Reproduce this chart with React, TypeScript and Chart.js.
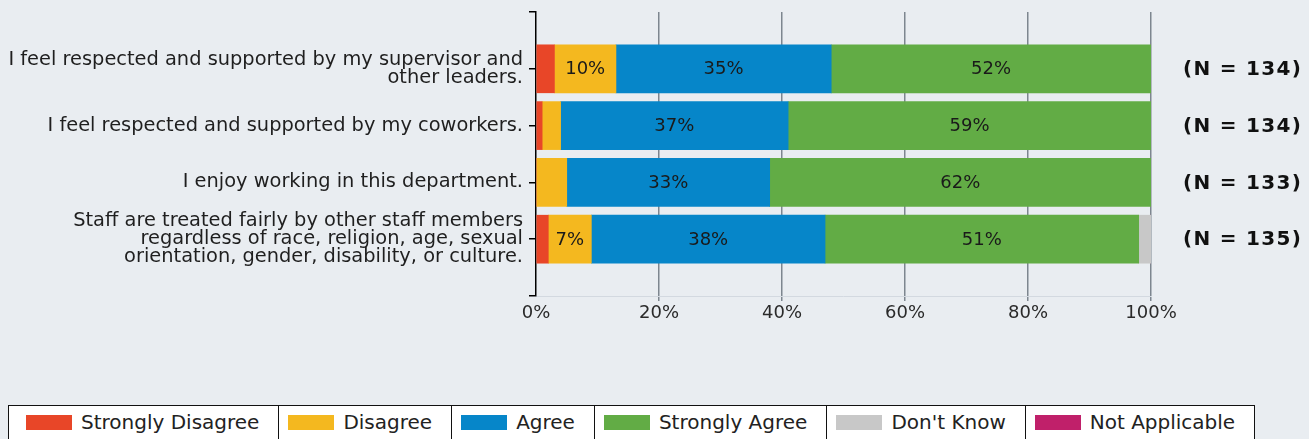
import React, { useEffect, useRef } from "react";
import { Chart, registerables } from "chart.js";

Chart.register(...registerables);

const categories: (string | string[])[] = [
  ["I feel respected and supported by my supervisor and", "other leaders."],
  "I feel respected and supported by my coworkers.",
  "I enjoy working in this department.",
  [
    "Staff are treated fairly by other staff members",
    "regardless of race, religion, age, sexual",
    "orientation, gender, disability, or culture.",
  ],
];
const nCounts = [134, 134, 133, 135];

const seriesNames = ["Strongly Disagree", "Disagree", "Agree", "Strongly Agree", "Don't Know", "Not Applicable"];
const seriesColors = ["#e84628", "#f4b81f", "#0686c9", "#62ac45", "#c8c8c8", "#c0206a"];

const stronglyDisagree = [3, 1, 0, 2];
const disagree = [10, 3, 5, 7];
const agree = [35, 37, 33, 38];
const stronglyAgree = [52, 59, 62, 51];
const dontKnow = [0, 0, 0, 2];
const notApplicable = [0, 0, 0, 0];

const xTicks = [0, 20, 40, 60, 80, 100];

const FONT = "'DejaVu Sans', sans-serif";
const BG = "#e9edf1";

export default function App() {
  const ref = useRef<HTMLCanvasElement | null>(null);

  useEffect(() => {
    if (!ref.current) return;
    const allSeries = [stronglyDisagree, disagree, agree, stronglyAgree, dontKnow, notApplicable];
    const labels = ["", ...categories, ""];
    const datasets = allSeries.map((arr, i) => ({
      label: seriesNames[i],
      data: [null, ...arr, null] as (number | null)[],
      backgroundColor: seriesColors[i],
      borderWidth: 0,
      barThickness: 48,
    }));

    const valueLabels = {
      id: "valueLabels",
      afterDatasetsDraw(chart: any) {
        const ctx = chart.ctx;
        ctx.save();
        ctx.font = `18px ${FONT}`;
        ctx.fillStyle = "#1a1a1a";
        ctx.textAlign = "center";
        ctx.textBaseline = "middle";
        chart.data.datasets.forEach((ds: any, di: number) => {
          const meta = chart.getDatasetMeta(di);
          meta.data.forEach((el: any, i: number) => {
            const v = ds.data[i];
            if (v == null || v < 6) return;
            ctx.fillText(`${v}%`, (el.x + el.base) / 2, el.y + 1);
          });
        });
        ctx.restore();
      },
    };

    const nLabels = {
      id: "nLabels",
      afterDraw(chart: any) {
        const ctx = chart.ctx;
        const y = chart.scales.y;
        ctx.save();
        ctx.font = `bold 20px ${FONT}`;
        (ctx as any).letterSpacing = "1.3px";
        ctx.fillStyle = "#111";
        ctx.textAlign = "left";
        ctx.textBaseline = "middle";
        nCounts.forEach((n, i) => {
          ctx.fillText(`(N = ${n})`, chart.chartArea.right + 32, y.getPixelForValue(i + 1) + 1);
        });
        ctx.restore();
      },
    };

    const chart = new Chart(ref.current, {
      type: "bar",
      data: { labels, datasets } as any,
      options: {
        indexAxis: "y",
        animation: false,
        responsive: false,
        maintainAspectRatio: false,
        layout: { padding: { top: 12, right: 158, left: 0, bottom: 0 } },
        plugins: { legend: { display: false }, tooltip: { enabled: false } },
        scales: {
          x: {
            stacked: true,
            min: 0,
            max: 100,
            afterBuildTicks: (s: any) => {
              s.ticks = xTicks.map((v) => ({ value: v }));
            },
            ticks: {
              callback: (v: any) => `${v}%`,
              font: { family: FONT, size: 18 },
              color: "#2a2a2a",
              padding: 2,
              maxRotation: 0,
            },
            grid: {
              color: (c: any) => (c.index === 0 ? "rgba(0,0,0,0)" : "#7d868f"),
              lineWidth: 1.5,
              tickLength: 5,
            },
            border: { color: "#d3d9e0", width: 1 },
            afterFit: (s: any) => {
              s.height = 44;
              s.paddingLeft = 0;
              s.paddingRight = 0;
            },
          },
          y: {
            stacked: true,
            offset: false,
            grid: { offset: false, drawOnChartArea: false, color: "#000", tickLength: 7, lineWidth: 1.5 },
            border: { color: "#000", width: 1.5 },
            ticks: {
              autoSkip: false,
              padding: 6,
              font: { family: FONT, size: 19.4, lineHeight: 0.93 },
              color: "#1f1f1f",
            },
            afterFit: (s: any) => {
              s.width = 536;
              s.paddingTop = 0;
              s.paddingBottom = 0;
            },
          },
        },
      } as any,
      plugins: [valueLabels, nLabels],
    });
    return () => chart.destroy();
  }, []);

  return (
    <div style={{ position: "absolute", left: 0, top: 0, width: 1309, height: 439, background: BG, overflow: "hidden" }}>
      <canvas ref={ref} width={1309} height={340} style={{ display: "block", width: 1309, height: 340 }} />
      <div
        style={{
          position: "absolute",
          left: 8,
          top: 405,
          display: "flex",
          background: "#fff",
          border: "1.5px solid #111",
          height: 44,
          fontFamily: FONT,
          fontSize: 20,
          color: "#222",
        }}
      >
        {seriesNames.map((name, i) => (
          <div
            key={name}
            style={{
              display: "flex",
              alignItems: "flex-start",
              paddingTop: 7,
              paddingLeft: i === 0 ? 17 : 9,
              paddingRight: 19,
              borderRight: i < seriesNames.length - 1 ? "1.5px solid #111" : "none",
              whiteSpace: "nowrap",
            }}
          >
            <span style={{ display: "inline-block", width: 46, height: 15, marginTop: 2, marginRight: 9, background: seriesColors[i] }} />
            <span style={{ lineHeight: "19px" }}>{name}</span>
          </div>
        ))}
      </div>
    </div>
  );
}
